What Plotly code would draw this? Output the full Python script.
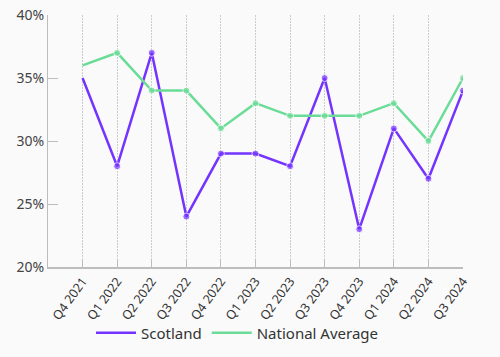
import plotly.graph_objects as go

quarters = ["Q4 2021", "Q1 2022", "Q2 2022", "Q3 2022", "Q4 2022", "Q1 2023",
            "Q2 2023", "Q3 2023", "Q4 2023", "Q1 2024", "Q2 2024", "Q3 2024"]
scotland = [35, 28, 37, 24, 29, 29, 28, 35, 23, 31, 27, 34]
national = [36, 37, 34, 34, 31, 33, 32, 32, 32, 33, 30, 35]

purple = "#7433FF"
green = "#6BDC97"
marker_sizes = [0] + [7] * (len(quarters) - 1)

fig = go.Figure()
for name, vals, col in [("Scotland", scotland, purple), ("National Average", national, green)]:
    fig.add_trace(go.Scatter(x=quarters, y=vals, name=name, mode="lines+markers",
                             line=dict(color=col, width=2.5),
                             marker=dict(color=col, size=marker_sizes), showlegend=False))
    fig.add_trace(go.Scatter(x=[None], y=[None], name=name, mode="lines",
                             line=dict(color=col, width=2.5), showlegend=True))

fig.update_layout(
    width=500, height=357,
    margin=dict(l=48, r=37, t=15, b=90),
    paper_bgcolor="#fafafa", plot_bgcolor="#fafafa",
    font=dict(family="Noto Sans", size=13, color="#444444"),
    showlegend=True,
    legend=dict(orientation="h", x=0.475, xref="container", xanchor="center",
                y=0.067, yref="container", yanchor="middle",
                font=dict(size=15, color="#333333"), itemwidth=40, bgcolor="rgba(0,0,0,0)"),
    xaxis=dict(type="category", range=[-1, 11], tickangle=-54, automargin=False,
               showgrid=True, gridcolor="#cccccc", griddash="2px,1px", gridwidth=1,
               showline=True, linecolor="#bdbdbd", linewidth=2,
               ticks="inside", ticklen=7, tickcolor="#bdbdbd",
               tickfont=dict(size=12.5, color="#333333"), zeroline=False),
    yaxis=dict(range=[20, 40], tickvals=[20, 25, 30, 35, 40], automargin=False,
               ticktext=["20%", "25%", "30%", "35%", "40%"],
               showgrid=False, showline=True, linecolor="#bdbdbd", linewidth=1,
               ticks="inside", ticklen=10, tickcolor="#bdbdbd",
               tickfont=dict(size=14, color="#444444"), zeroline=False),
)

fig.write_html("out.html", config={"displayModeBar": False},
               post_script="document.body.style.margin='0';")
